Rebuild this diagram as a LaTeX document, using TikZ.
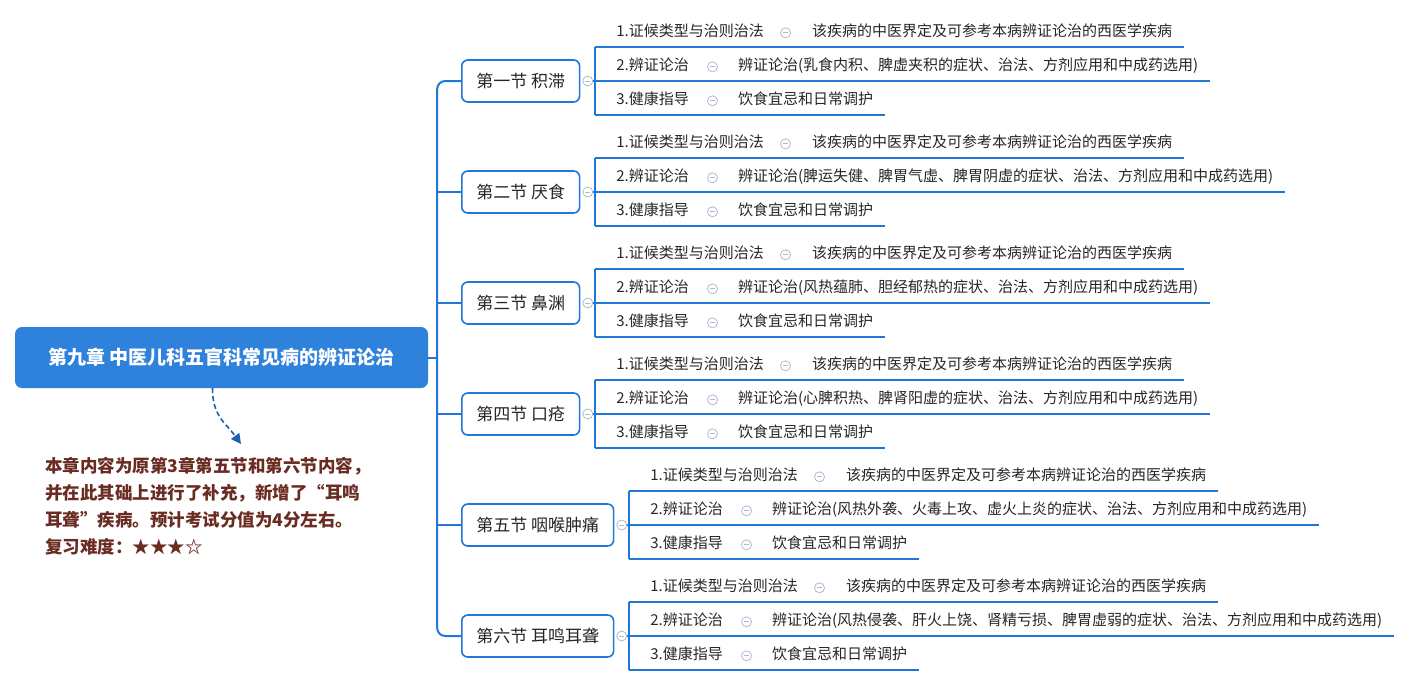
\documentclass[tikz,border=0pt]{standalone}
\usepackage{fontspec}
\setmainfont{Noto Sans CJK SC}
\usetikzlibrary{positioning, calc, arrows.meta}
\definecolor{mapblue}{HTML}{1F77D6}
\definecolor{rootblue}{HTML}{2F82DC}
\definecolor{foldgray}{HTML}{AEB9D2}
\definecolor{notebrown}{HTML}{6A2C22}
\definecolor{arrowblue}{HTML}{1D5FAF}
\definecolor{textgray}{HTML}{262626}
\tikzstyle{branch}  = [mapblue, line width=2pt]
\tikzstyle{chapter} = [fill=rootblue, rounded corners=7pt, minimum width=413pt, minimum height=61pt, text=white, font=\fontsize{19}{23}\selectfont\bfseries]
\tikzstyle{part}    = [draw=mapblue, line width=1.6pt, fill=white, rounded corners=6pt, minimum height=42pt, inner xsep=14.5pt, text=textgray, font=\fontsize{17}{20}\selectfont]
\tikzstyle{item}    = [inner xsep=0pt, inner ysep=6pt, text height=12pt, text depth=4pt, text=textgray, font=\fontsize{15}{18}\selectfont]
\tikzstyle{fold}    = [circle, draw=foldgray, line width=0.8pt, fill=white, minimum size=10pt, inner sep=0pt, path picture={\draw[foldgray, line width=0.8pt] ([xshift=-2.5pt]path picture bounding box.center) -- ([xshift=2.5pt]path picture bounding box.center);}]
\tikzstyle{note}    = [inner sep=0pt, align=left, text=notebrown, font=\fontsize{17.5}{27}\selectfont\bfseries]
\tikzstyle{hint}    = [arrowblue, line width=1.6pt, dash pattern=on 5pt off 3pt, -{Triangle[length=10pt,width=10pt]}]

\begin{document}
\begin{tikzpicture}[x=1pt, y=-1pt]
\useasboundingbox (0,0) rectangle (1411,686);

% kapitola
\node[chapter] (root) at (221.5,357.5) {第九章 中医儿科五官科常见病的辨证论治};
\coordinate[right=9pt of root] (tr);

% poznámka
\node[note, anchor=north west] (note) at (45,457) {本章内容为原第3章第五节和第六节内容，\\并在此其础上进行了补充，新增了“耳鸣\\耳聋”疾病。预计考试分值为4分左右。\\复习难度：★★★☆};
\coordinate (tip) at (241,444);
\draw[hint] ([xshift=-9pt]root.south) .. controls +(0,28) and +(-16,-22) .. (tip);

% oddíly
\node[part, anchor=west] (s1) at (461,81) {第一节 积滞};
\node[part, anchor=west] (s2) at (461,192) {第二节 厌食};
\node[part, anchor=west] (s3) at (461,303) {第三节 鼻渊};
\node[part, anchor=west] (s4) at (461,414) {第四节 口疮};
\node[part, anchor=west] (s5) at (461,525) {第五节 咽喉肿痛};
\node[part, anchor=west] (s6) at (461,636) {第六节 耳鸣耳聋};

% kmen
\draw[branch] (root.east) -- (tr);
\draw[branch, rounded corners=8pt] (s1.west) -| (tr) |- (s6.west);
\draw[branch] (tr |- s2.west) -- (s2.west);
\draw[branch] (tr |- s3.west) -- (s3.west);
\draw[branch] (tr |- s4.west) -- (s4.west);
\draw[branch] (tr |- s5.west) -- (s5.west);

% první oddíl
\node[fold, right=2pt of s1] (f1) {};
\coordinate[right=2pt of f1] (b1);
\coordinate (b1t) at ($(b1)+(0,-34)$);
\coordinate (b1b) at ($(b1)+(0,34)$);
\node[item, anchor=south west] (l11) at ($(b1t)+(21,0)$) {1.证候类型与治则治法};
\node[item, anchor=south west] (l12) at ($(b1)+(21,0)$) {2.辨证论治};
\node[item, anchor=south west] (l13) at ($(b1b)+(21,0)$) {3.健康指导};
\node[fold, right=16pt of l11] (g11) {};
\node[fold, right=18pt of l12] (g12) {};
\node[fold, right=18pt of l13] (g13) {};
\node[item, right=21pt of g11] (c11) {该疾病的中医界定及可参考本病辨证论治的西医学疾病};
\node[item, right=20pt of g12] (c12) {辨证论治(乳食内积、脾虚夹积的症状、治法、方剂应用和中成药选用)};
\node[item, right=20pt of g13] (c13) {饮食宜忌和日常调护};
\draw[branch] (f1) -- (b1);
\draw[branch] (b1t) -- (b1b);
\draw[branch] (b1t) -- ([xshift=12pt]c11.south east);
\draw[branch] (b1) -- ([xshift=12pt]c12.south east);
\draw[branch] (b1b) -- ([xshift=12pt]c13.south east);

% druhý oddíl
\node[fold, right=2pt of s2] (f2) {};
\coordinate[right=2pt of f2] (b2);
\coordinate (b2t) at ($(b2)+(0,-34)$);
\coordinate (b2b) at ($(b2)+(0,34)$);
\node[item, anchor=south west] (l21) at ($(b2t)+(21,0)$) {1.证候类型与治则治法};
\node[item, anchor=south west] (l22) at ($(b2)+(21,0)$) {2.辨证论治};
\node[item, anchor=south west] (l23) at ($(b2b)+(21,0)$) {3.健康指导};
\node[fold, right=16pt of l21] (g21) {};
\node[fold, right=18pt of l22] (g22) {};
\node[fold, right=18pt of l23] (g23) {};
\node[item, right=21pt of g21] (c21) {该疾病的中医界定及可参考本病辨证论治的西医学疾病};
\node[item, right=20pt of g22] (c22) {辨证论治(脾运失健、脾胃气虚、脾胃阴虚的症状、治法、方剂应用和中成药选用)};
\node[item, right=20pt of g23] (c23) {饮食宜忌和日常调护};
\draw[branch] (f2) -- (b2);
\draw[branch] (b2t) -- (b2b);
\draw[branch] (b2t) -- ([xshift=12pt]c21.south east);
\draw[branch] (b2) -- ([xshift=12pt]c22.south east);
\draw[branch] (b2b) -- ([xshift=12pt]c23.south east);

% třetí oddíl
\node[fold, right=2pt of s3] (f3) {};
\coordinate[right=2pt of f3] (b3);
\coordinate (b3t) at ($(b3)+(0,-34)$);
\coordinate (b3b) at ($(b3)+(0,34)$);
\node[item, anchor=south west] (l31) at ($(b3t)+(21,0)$) {1.证候类型与治则治法};
\node[item, anchor=south west] (l32) at ($(b3)+(21,0)$) {2.辨证论治};
\node[item, anchor=south west] (l33) at ($(b3b)+(21,0)$) {3.健康指导};
\node[fold, right=16pt of l31] (g31) {};
\node[fold, right=18pt of l32] (g32) {};
\node[fold, right=18pt of l33] (g33) {};
\node[item, right=21pt of g31] (c31) {该疾病的中医界定及可参考本病辨证论治的西医学疾病};
\node[item, right=20pt of g32] (c32) {辨证论治(风热蕴肺、胆经郁热的症状、治法、方剂应用和中成药选用)};
\node[item, right=20pt of g33] (c33) {饮食宜忌和日常调护};
\draw[branch] (f3) -- (b3);
\draw[branch] (b3t) -- (b3b);
\draw[branch] (b3t) -- ([xshift=12pt]c31.south east);
\draw[branch] (b3) -- ([xshift=12pt]c32.south east);
\draw[branch] (b3b) -- ([xshift=12pt]c33.south east);

% čtvrtý oddíl
\node[fold, right=2pt of s4] (f4) {};
\coordinate[right=2pt of f4] (b4);
\coordinate (b4t) at ($(b4)+(0,-34)$);
\coordinate (b4b) at ($(b4)+(0,34)$);
\node[item, anchor=south west] (l41) at ($(b4t)+(21,0)$) {1.证候类型与治则治法};
\node[item, anchor=south west] (l42) at ($(b4)+(21,0)$) {2.辨证论治};
\node[item, anchor=south west] (l43) at ($(b4b)+(21,0)$) {3.健康指导};
\node[fold, right=16pt of l41] (g41) {};
\node[fold, right=18pt of l42] (g42) {};
\node[fold, right=18pt of l43] (g43) {};
\node[item, right=21pt of g41] (c41) {该疾病的中医界定及可参考本病辨证论治的西医学疾病};
\node[item, right=20pt of g42] (c42) {辨证论治(心脾积热、脾肾阳虚的症状、治法、方剂应用和中成药选用)};
\node[item, right=20pt of g43] (c43) {饮食宜忌和日常调护};
\draw[branch] (f4) -- (b4);
\draw[branch] (b4t) -- (b4b);
\draw[branch] (b4t) -- ([xshift=12pt]c41.south east);
\draw[branch] (b4) -- ([xshift=12pt]c42.south east);
\draw[branch] (b4b) -- ([xshift=12pt]c43.south east);

% pátý oddíl
\node[fold, right=2pt of s5] (f5) {};
\coordinate[right=2pt of f5] (b5);
\coordinate (b5t) at ($(b5)+(0,-34)$);
\coordinate (b5b) at ($(b5)+(0,34)$);
\node[item, anchor=south west] (l51) at ($(b5t)+(21,0)$) {1.证候类型与治则治法};
\node[item, anchor=south west] (l52) at ($(b5)+(21,0)$) {2.辨证论治};
\node[item, anchor=south west] (l53) at ($(b5b)+(21,0)$) {3.健康指导};
\node[fold, right=16pt of l51] (g51) {};
\node[fold, right=18pt of l52] (g52) {};
\node[fold, right=18pt of l53] (g53) {};
\node[item, right=21pt of g51] (c51) {该疾病的中医界定及可参考本病辨证论治的西医学疾病};
\node[item, right=20pt of g52] (c52) {辨证论治(风热外袭、火毒上攻、虚火上炎的症状、治法、方剂应用和中成药选用)};
\node[item, right=20pt of g53] (c53) {饮食宜忌和日常调护};
\draw[branch] (f5) -- (b5);
\draw[branch] (b5t) -- (b5b);
\draw[branch] (b5t) -- ([xshift=12pt]c51.south east);
\draw[branch] (b5) -- ([xshift=12pt]c52.south east);
\draw[branch] (b5b) -- ([xshift=12pt]c53.south east);

% šestý oddíl
\node[fold, right=2pt of s6] (f6) {};
\coordinate[right=2pt of f6] (b6);
\coordinate (b6t) at ($(b6)+(0,-34)$);
\coordinate (b6b) at ($(b6)+(0,34)$);
\node[item, anchor=south west] (l61) at ($(b6t)+(21,0)$) {1.证候类型与治则治法};
\node[item, anchor=south west] (l62) at ($(b6)+(21,0)$) {2.辨证论治};
\node[item, anchor=south west] (l63) at ($(b6b)+(21,0)$) {3.健康指导};
\node[fold, right=16pt of l61] (g61) {};
\node[fold, right=18pt of l62] (g62) {};
\node[fold, right=18pt of l63] (g63) {};
\node[item, right=21pt of g61] (c61) {该疾病的中医界定及可参考本病辨证论治的西医学疾病};
\node[item, right=20pt of g62] (c62) {辨证论治(风热侵袭、肝火上饶、肾精亏损、脾胃虚弱的症状、治法、方剂应用和中成药选用)};
\node[item, right=20pt of g63] (c63) {饮食宜忌和日常调护};
\draw[branch] (f6) -- (b6);
\draw[branch] (b6t) -- (b6b);
\draw[branch] (b6t) -- ([xshift=12pt]c61.south east);
\draw[branch] (b6) -- ([xshift=12pt]c62.south east);
\draw[branch] (b6b) -- ([xshift=12pt]c63.south east);

\end{tikzpicture}
\end{document}
